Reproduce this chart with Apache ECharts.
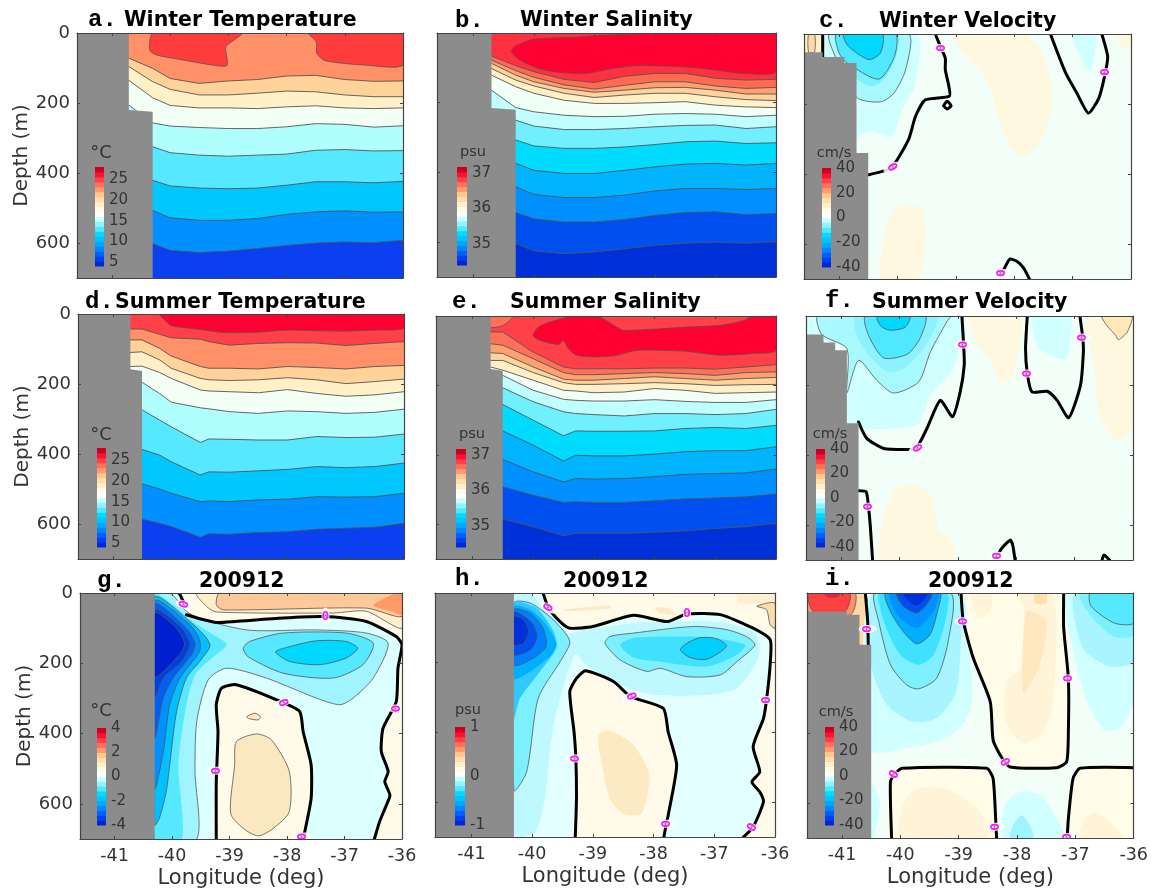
<!DOCTYPE html>
<html><head><meta charset="utf-8"><style>html,body{margin:0;padding:0;background:#fff}#c{width:1151px;height:892px;filter:blur(0.45px)}</style>
<script src="https://cdn.jsdelivr.net/npm/echarts@6/dist/echarts.min.js"></script></head><body><div id="c"></div>
<script>
// ---------- colour bar categories ----------
const cbColors=['#0028d8','#0040f0','#0060ff','#0088ff','#00a8ff','#00c4ff','#00dcff','#50e8ff','#90f4ff','#c8ffff','#ffffff','#fffbe8','#fff0c8','#ffe0a8','#ffc890','#ff9a70','#ff7058','#ff4048','#ff1030','#cc0020'];
const lonTicks=[-41,-40,-39,-38,-37,-36];
const depthTicks=[0,200,400,600];
const tempTicks=[5,10,15,20,25];
const salTicks=[35,36,37];
const velTicks=[-40,-20,0,20,40];
const anomTTicks=[-4,-2,0,2,4];
const anomSTicks=[-1,0,1];
// ---------- a: Winter Temperature ----------
const aLand=[[-41.6,0],[-40.71,0],[-40.71,220],[-40.3,225],[-40.3,700],[-41.6,700]];
const aLon=[-40.71,-40.3,-40,-39.5,-39,-38.5,-38,-37.5,-37,-36.5,-36];
const aContours=[
[72,101,130,144,137,133,123,121,133,138,137],
[96,139,161,177,177,172,166,168,177,182,182],
[135,185,207,214,214,216,211,208,214,216,214],
[206,257,266,270,273,273,268,259,261,269,265],
[300,325,342,349,352,349,346,335,333,337,336],
[400,421,437,443,445,443,435,425,425,428,424],
[490,507,528,535,535,530,518,511,508,512,511],
[580,602,621,627,623,616,607,600,597,599,592]];
const aBands=['#ff9068','#ffd29a','#fff0c8','#f2fff4','#b0ffff','#55e8ff','#00c8ff','#0090ff','#0a40f0'];
const aPolys=[
[[-40.29,0],[-40.35,49],[-40.23,63],[-39.78,77],[-39.26,92],[-39.03,94],[-39.02,77],[-39.04,39],[-38.77,0]],
[[-37.62,0],[-37.49,25],[-37.48,58],[-37.34,79],[-36.62,92],[-36,92],[-36,0]]];
const aFills=['#ff3c3c','#ff3c3c'];
// ---------- b: Winter Salinity ----------
const bLand=[[-41.6,0],[-40.7,0],[-40.7,215],[-40.3,220],[-40.3,700],[-41.6,700]];
const bLon=[-40.7,-40.3,-40,-39.5,-39,-38.5,-38,-37.5,-37,-36.5,-36];
const bContours=[
[66,94,111,133,142,124,116,116,130,135,133],
[78,108,127,149,161,150,140,140,152,159,156],
[87,121,140,159,170,164,157,156,164,175,175],
[102,135,152,173,185,178,173,173,183,191,194],
[121,154,173,193,202,202,200,197,207,212,214],
[164,214,226,236,240,239,233,231,233,240,236],
[220,250,267,277,277,274,269,265,264,274,269],
[280,307,324,331,331,327,320,312,310,317,315],
[350,374,394,403,403,394,384,376,374,379,374],
[420,441,463,472,472,465,453,446,446,449,446],
[490,515,533,542,542,535,523,515,513,521,518],
[580,604,625,633,628,619,609,603,600,603,598]];
const bBands=['#ff3040','#ff6a50','#ffa070','#ffd29a','#fff0c8','#f2fff4','#c0ffff','#70f0ff','#00dcff','#00b4ff','#0090ff','#0050f0','#0030d8'];
const bPolys=[[[-40.01,18],[-40.32,39],[-40.37,54],[-40.23,78],[-39.9,103],[-39.52,114],[-39.13,116],[-38.75,103],[-38.31,94],[-37.81,95],[-37.32,100],[-36.93,108],[-36.52,116],[-36,111],[-36,0],[-38.8,6],[-39.3,12]]];
const bFills=['#ff0030'];
// ---------- c: Winter Velocity ----------
const cLand=[[-41.6,52],[-41.28,52],[-41.28,66],[-40.91,66],[-40.91,83],[-40.7,83],[-40.7,340],[-40.5,340],[-40.5,700],[-41.6,700]];
const cPolys=[
[[-39.01,0],[-38.92,45],[-38.47,130],[-38.3,226],[-38.07,321],[-37.84,351],[-37.58,311],[-37.38,235],[-37.35,149],[-37.5,64],[-37.64,26],[-37.84,0]],
[[-40.29,700],[-40.21,568],[-40.06,502],[-39.84,487],[-39.58,502],[-39.52,568],[-39.64,700]],
[[-36.24,0],[-36.13,45],[-36,30],[-36,0]],
[[-37.01,0],[-36.87,64],[-36.7,107],[-36.61,45],[-36.61,0]],
[[-41.26,0],[-41.26,64],[-40.7,64],[-40.7,294],[-40.49,278],[-40.09,292],[-39.92,216],[-39.71,149],[-39.67,0]],
[[-41.16,0],[-41.09,54],[-40.7,181],[-40.29,194],[-40.06,169],[-39.86,102],[-39.81,0]],
[[-41.06,0],[-41.03,40],[-40.69,130],[-40.44,149],[-40.24,130],[-40.04,73],[-40,0]],
[[-41.04,0],[-41,54],[-40.86,83],[-40.32,129],[-40.05,64],[-40.04,0]],
[[-40.92,0],[-40.84,35],[-40.49,73],[-40.29,54],[-40.26,0]],
[[-41.6,0],[-41.28,0],[-41.28,52],[-41.6,52]],
[[-41.52,0],[-41.42,0],[-41.42,52],[-41.52,52]]];
const cFills=['#fff8e0','#fff8e0','#fff8e0','#d0ffff','#d0ffff','#a8f8ff','#7cf0ff','#50e8ff','#00d8ff','#ffeec8','#ffd8a8'];
const cLined=[0,0,0,0,0,1,0,1,1,0,1];
const cZero=[
[[-39.34,5],[-39.24,45],[-39.18,69],[-39.18,102],[-39.12,149],[-39.11,178],[-39.52,188],[-39.69,235],[-39.81,302],[-40.1,383],[-40.29,394],[-40.49,402]],
[[-37.38,0],[-37.12,111],[-36.93,168],[-36.73,226],[-36.55,183],[-36.44,111],[-36.4,64],[-36.5,0]],
[[-38.21,683],[-38.12,654],[-38.07,643],[-37.95,650],[-37.84,668],[-37.74,700]],
[[-41.28,5],[-41.28,66]],
[[-39.21,205],[-39.15,192],[-39.08,205],[-39.15,214],[-39.21,205]]];
const cLabels=[[-39.25,40,90],[-40.1,381,-60],[-36.44,109,90],[-38.21,683,90]];
// ---------- d: Summer Temperature ----------
const dLand=[[-41.6,0],[-40.7,0],[-40.7,158],[-40.5,163],[-40.5,700],[-41.6,700]];
const dLon=[-40.7,-40.5,-40.2,-40,-39.5,-39.35,-39,-38.5,-38,-37.5,-37,-36.5,-36];
const dContours=[
[43,43,58,68,72,79,89,84,82,83,90,84,79],
[74,74,98,120,150,155,155,157,150,153,157,150,147],
[110,108,131,155,184,188,190,188,182,188,199,193,186],
[150,149,167,184,217,220,222,225,216,227,235,231,222],
[165,195,227,252,268,271,279,284,277,279,284,281,272],
[250,274,303,322,367,357,358,360,360,350,353,352,343],
[360,387,403,422,460,451,452,448,444,436,439,436,426],
[460,485,500,512,536,534,536,531,529,522,523,522,512],
[560,586,598,607,638,628,629,624,622,615,612,609,598]];
const dBands=['#ff4048','#ff9068','#ffd29a','#fff0c8','#f2fff4','#b0ffff','#55e8ff','#00c8ff','#0090ff','#0a40f0'];
const dPolys=[[[-40.2,0],[-40.11,17],[-40,33],[-39.51,44],[-39.08,53],[-38.5,52],[-38,46],[-37.5,48],[-37,49],[-36.5,46],[-36,41],[-36,0]]];
const dFills=['#ff0030'];
// ---------- e: Summer Salinity ----------
const eLand=[[-41.6,0],[-40.7,0],[-40.7,153],[-40.5,158],[-40.5,700],[-41.6,700]];
const eLon=[-40.7,-40.5,-40,-39.5,-39.3,-39,-38.5,-38,-37.5,-37,-36.5,-36];
const eContours=[
[46,46,104,147,152,152,152,150,150,153,147,140],
[80,84,123,163,169,169,166,163,166,171,163,161],
[106,108,147,182,185,185,180,175,180,185,180,177],
[128,128,163,192,197,197,195,192,195,200,198,197],
[147,156,185,214,216,221,219,209,214,223,221,219],
[166,171,214,240,243,245,245,241,246,249,249,241],
[176,207,247,276,281,284,288,281,281,284,281,269],
[228,255,300,345,331,332,332,331,324,321,324,315],
[305,331,372,418,401,403,403,398,391,388,388,377],
[386,413,449,478,468,470,468,463,456,454,452,441],
[468,492,516,537,535,537,537,532,527,524,521,513],
[564,585,607,633,626,626,626,623,619,612,607,597]];
const eBands=['#ff4048','#ff7058','#ffa070','#ffd29a','#fff0c8','#f2fff4','#c0ffff','#70f0ff','#00dcff','#00b4ff','#0090ff','#0050f0','#0030d8'];
const ePolys=[
[[-39.35,0],[-39.89,29],[-40,56],[-39.89,70],[-39.58,82],[-39.5,70],[-39.42,94],[-39.28,113],[-38.95,118],[-38.62,113],[-38.29,99],[-37.91,99],[-37.47,102],[-36.92,113],[-36.37,108],[-36,99],[-36,0],[-36.45,5],[-36.51,12],[-36.92,27],[-37.47,32],[-38.02,38],[-38.51,41],[-38.62,32],[-38.95,0]],
[[-40.7,0],[-40.33,0],[-40.41,17],[-40.52,29],[-40.7,32]]];
const eFills=['#ff0030','#ff7058'];
// ---------- f: Summer Velocity ----------
const fLand=[[-41.6,53],[-41.3,53],[-41.3,76],[-41.1,76],[-41.1,98],[-40.9,98],[-40.9,308],[-40.7,308],[-40.7,700],[-41.6,700]];
const fPolys=[
[[-38.79,0],[-38.7,74],[-38.45,122],[-38.27,194],[-38.05,170],[-37.93,0]],
[[-36.82,0],[-36.67,141],[-36.59,275],[-36.3,356],[-36,318],[-36,0]],
[[-40.33,700],[-40.25,562],[-40.05,495],[-39.76,485],[-39.47,509],[-39.36,581],[-39.3,619],[-39.16,628],[-39.05,700]],
[[-36.53,0],[-36.45,27],[-36.3,55],[-36.25,68],[-36.1,46],[-36.02,0]],
[[-37.72,0],[-37.67,70],[-37.6,95],[-37.15,125],[-37.07,50],[-37.07,0]],
[[-41.59,0],[-41.59,53],[-40.9,98],[-40.9,308],[-39.7,311],[-39.47,227],[-39.07,151],[-38.96,74],[-38.93,0]],
[[-41.39,0],[-41.33,53],[-40.9,94],[-40.9,220],[-40.7,127],[-40.39,184],[-40.1,221],[-39.67,189],[-39.47,103],[-39.19,17],[-39.13,0]],
[[-40.76,0],[-40.65,84],[-40.22,159],[-39.93,151],[-39.59,94],[-39.36,0]],
[[-40.58,0],[-40.53,55],[-40.27,120],[-39.87,110],[-39.65,65],[-39.56,0]],
[[-40.38,0],[-40.32,29],[-40.16,41],[-39.9,32],[-39.82,0]]];
const fFills=['#fff8e0','#fff8e0','#fff8e0','#ffe8b8','#d0ffff','#d0ffff','#a8f8ff','#8cf2ff','#50e8ff','#00d8ff'];
const fLined=[0,0,0,1,0,0,1,0,1,1];
const fZero=[
[[-40.7,304],[-40.56,351],[-40.27,380],[-39.82,383],[-39.71,380],[-39.53,323],[-39.3,242],[-39.09,289],[-38.96,218],[-38.89,141],[-38.9,84],[-38.93,0]],
[[-37.81,0],[-37.84,94],[-37.81,165],[-37.73,218],[-37.47,216],[-37.3,242],[-37.1,292],[-36.9,199],[-36.85,103],[-36.86,63],[-36.91,0]],
[[-40.7,501],[-40.57,504],[-40.53,547],[-40.5,600],[-40.46,700]],
[[-38.32,688],[-38.25,667],[-38.1,643],[-38.06,657],[-38.02,700]],
[[-36.53,700],[-36.5,686],[-36.4,700]]];
const fLabels=[[-38.9,82,90],[-37.81,165,90],[-36.86,62,90],[-39.71,380,-60],[-40.53,547,90],[-38.32,688,90]];
// ---------- g: 200912 temperature anomaly ----------
const gLand=[[-41.6,0],[-40.3,0],[-40.3,700],[-41.6,700]];
const gPolys=[
[[-39.89,0],[-39.86,5],[-39.75,62],[-39.5,74],[-39.23,84],[-38.9,81],[-38.07,71],[-37.34,67],[-36.62,81],[-36.1,124],[-36,147],[-36,0]],
[[-36,147],[-36.07,214],[-36.1,309],[-36.33,385],[-36.36,451],[-36.24,508],[-36.3,537],[-36.21,575],[-36.27,603],[-36.39,651],[-36.48,700],[-36,700]],
[[-39.23,700],[-39.23,537],[-39.2,394],[-39.23,318],[-39.14,271],[-38.88,261],[-38.18,304],[-37.78,337],[-37.72,394],[-37.58,489],[-37.58,584],[-37.69,679],[-37.72,700]],
[[-38.88,423],[-38.53,401],[-38.27,418],[-37.96,508],[-37.96,622],[-38.24,670],[-38.5,691],[-38.76,670],[-38.98,627],[-38.91,489]],
[[-38.7,352],[-38.56,342],[-38.46,352],[-38.5,361],[-38.65,358]],
[[-39.57,0],[-39.4,38],[-39.23,54],[-37.2,57],[-36.62,52],[-36,100],[-36,0]],
[[-39.17,0],[-39.23,33],[-39.11,48],[-36.62,43],[-36,67],[-36,0]],
[[-36.1,0],[-36.5,35],[-36.19,52],[-36,62],[-36,0]],
[[-40.3,0],[-40.01,3],[-39.75,52],[-39.46,76],[-38.65,106],[-37.49,105],[-36.62,114],[-36.24,143],[-36.5,242],[-36.85,299],[-37.08,318],[-37.49,299],[-38.36,242],[-39.05,214],[-39.37,247],[-39.57,366],[-39.6,508],[-39.57,700],[-40.3,700]],
[[-38.76,157],[-38.68,181],[-38.07,228],[-37.2,242],[-36.68,204],[-36.5,143],[-36.97,114],[-38.07,114],[-38.65,138]],
[[-38.2,168],[-37.95,195],[-37.43,204],[-36.97,185],[-36.77,157],[-36.97,138],[-37.49,136],[-38.01,155]],
[[-40.3,5],[-39.98,33],[-39.69,76],[-39.28,119],[-39.05,147],[-39.31,185],[-39.6,233],[-39.75,318],[-39.89,489],[-39.83,700],[-40.3,700]],
[[-40.3,14],[-39.69,81],[-39.4,128],[-39.34,152],[-39.52,195],[-39.75,242],[-39.92,337],[-40.04,489],[-40.1,565],[-40.22,641],[-40.3,660]],
[[-40.3,24],[-39.69,90],[-39.52,133],[-39.52,166],[-39.86,242],[-40.04,318],[-40.15,451],[-40.3,556]],
[[-40.3,33],[-39.75,100],[-39.6,143],[-39.66,176],[-39.98,242],[-40.15,299],[-40.3,413]],
[[-40.3,48],[-39.83,100],[-39.69,147],[-39.83,195],[-40.15,242],[-40.3,299]],
[[-40.3,57],[-39.92,100],[-39.78,147],[-39.92,185],[-40.3,238]]];
const gFills=['#fffbe8','#fffbe8','#fffbe8','#fbe8c0','#fbe8c0','#ffeecc','#ffc898','#ff9a68','#a0f4ff','#55e8ff','#00d8ff','#55e8ff','#00c0ff','#0090ff','#0060f0','#0040e0','#0020d0'];
const gLined=[0,0,0,1,1,1,1,0,1,1,1,0,1,1,1,1,1];
const gZero=[
[[-39.89,0],[-39.86,5],[-39.78,33]],
[[-39.75,62],[-39.5,74],[-39.23,84],[-38.9,81],[-38.07,71],[-37.34,67],[-36.62,81],[-36.1,124],[-36,147],[-36.07,214],[-36.1,309],[-36.33,385],[-36.36,451],[-36.24,508],[-36.3,537],[-36.21,575],[-36.27,603],[-36.39,651],[-36.48,700]],
[[-39.23,700],[-39.23,537],[-39.2,394],[-39.23,318],[-39.14,271],[-38.88,261],[-38.18,304],[-37.78,337],[-37.72,394],[-37.58,489],[-37.58,584],[-37.69,679],[-37.72,700]]];
const gLabels=[[-39.23,506,90],[-38.08,313,-70],[-37.72,693,90],[-37.33,67,0],[-36.1,329,90],[-39.78,33,75]];
// ---------- h: 200912 salinity anomaly ----------
const hLand=[[-41.6,0],[-40.3,0],[-40.3,700],[-41.6,700]];
const hPolys=[
[[-39.82,0],[-39.73,43],[-39.54,82],[-39.38,101],[-39,96],[-38.33,64],[-37.78,82],[-37.45,60],[-36.9,62],[-36.36,101],[-36.08,134],[-36,134],[-36,0]],
[[-36.08,134],[-36.08,206],[-36.14,307],[-36.19,360],[-36.36,441],[-36.25,513],[-36.38,542],[-36.25,571],[-36.19,599],[-36.36,671],[-36.52,700],[-36,700],[-36,134]],
[[-39.29,700],[-39.27,590],[-39.28,475],[-39.31,398],[-39.38,283],[-39.27,245],[-39.12,223],[-38.66,254],[-38.38,297],[-37.84,331],[-37.76,398],[-37.62,494],[-37.76,638],[-37.79,662],[-37.83,700]],
[[-38.91,408],[-38.72,395],[-38.33,436],[-38.07,523],[-38.2,633],[-38.5,633],[-38.72,590],[-38.85,494]],
[[-39.49,48],[-38.72,35],[-38.72,45],[-39.49,52]],
[[-37.98,43],[-37.78,43],[-37.62,62],[-37.89,58]],
[[-36.63,0],[-36,0],[-36,24],[-36.57,29]],
[[-36.3,38],[-36,29],[-36,101],[-36.08,91],[-36.14,48]],
[[-40.3,695],[-39.95,686],[-39.79,590],[-39.68,417],[-39.54,302],[-39.29,177],[-39.11,206],[-38.55,264],[-38,292],[-37.07,292],[-36.63,273],[-36.3,197],[-36.25,149],[-36.36,110],[-37.01,82],[-38.28,86],[-39.11,105],[-39.43,115],[-39.65,72],[-39.87,34],[-40.03,0],[-40.3,0]],
[[-40.3,29],[-40.03,29],[-39.65,77],[-39.38,139],[-39.54,197],[-39.9,302],[-40.09,513],[-40.3,566]],
[[-38.8,144],[-38.55,192],[-38.11,225],[-37.89,216],[-37.45,240],[-36.9,235],[-36.63,197],[-36.33,149],[-36.47,125],[-36.8,105],[-37.34,96],[-38.33,115],[-38.72,125]],
[[-38.55,149],[-38.33,185],[-37.89,197],[-37.12,211],[-36.63,177],[-36.49,149],[-37.01,129],[-37.45,125],[-38.33,129]],
[[-37.56,163],[-37.4,185],[-37.12,190],[-36.8,153],[-36.96,131],[-37.23,128],[-37.45,144]],
[[-40.3,360],[-40.2,302],[-39.87,225],[-39.6,158],[-39.65,110],[-39.93,43],[-40.3,29]],
[[-40.3,245],[-40.03,225],[-39.68,177],[-39.6,144],[-39.79,86],[-40.03,48],[-40.3,38]],
[[-40.3,206],[-39.98,187],[-39.77,153],[-39.82,101],[-40.03,58],[-40.3,48]],
[[-40.3,177],[-40.03,163],[-39.92,129],[-39.98,91],[-40.17,62],[-40.3,55]],
[[-40.3,149],[-40.14,144],[-40.06,110],[-40.14,77],[-40.3,67]]];
const hFills=['#fffbe8','#fffbe8','#fffbe8','#fdeac4','#fdeac4','#fdeac4','#ffeed0','#fbdca8','#c0f8ff','#7cf0ff','#7cf0ff','#40e0ff','#00d0ff','#30c8ff','#00b0ff','#0080ff','#0050f0','#0030d8'];
const hLined=[0,0,0,0,0,0,0,1,0,1,1,0,1,0,0,1,1,1];
const hZero=[
[[-39.82,0],[-39.73,43],[-39.54,82],[-39.38,101],[-39,96],[-38.33,64],[-37.78,82],[-37.45,60],[-36.9,62],[-36.36,101],[-36.08,134],[-36.08,206],[-36.14,307],[-36.19,360],[-36.36,441],[-36.25,513],[-36.38,542],[-36.25,571],[-36.19,599],[-36.36,671],[-36.52,700]],
[[-39.29,700],[-39.27,590],[-39.28,475],[-39.31,398],[-39.38,283],[-39.27,245],[-39.12,223],[-38.66,254],[-38.38,297],[-37.84,331],[-37.76,398],[-37.62,494],[-37.76,638],[-37.79,662],[-37.83,700]]];
const hLabels=[[-39.72,43,60],[-37.45,59,0],[-39.29,475,90],[-38.38,297,-70],[-37.78,662,90],[-36.14,307,90],[-36.37,673,60]];
// ---------- i: 200912 velocity anomaly ----------
const iLand=[[-41.6,53],[-40.92,53],[-40.92,62],[-40.7,62],[-40.7,148],[-40.5,148],[-40.5,700],[-41.6,700]];
const iPolys=[
[[-41.6,0],[-40.62,0],[-40.62,148],[-41.6,148]],
[[-41.6,0],[-40.78,0],[-40.85,62],[-41.6,62]],
[[-41.57,0],[-41.49,53],[-40.95,53],[-40.87,0]],
[[-41.31,0],[-41.23,11],[-41.09,10],[-41.03,0]],
[[-38.96,0],[-38.92,81],[-38.75,186],[-38.46,310],[-38.29,463],[-38.12,497],[-37.32,497],[-37.12,473],[-37.12,244],[-37.2,0]],
[[-38.78,0],[-38.75,43],[-38.64,70],[-38.46,53],[-38.44,0]],
[[-37.95,0],[-37.89,43],[-37.89,205],[-38.18,253],[-38.19,368],[-37.89,430],[-37.55,396],[-37.38,301],[-37.38,0]],
[[-37.89,286],[-37.84,53],[-37.5,81],[-37.61,205]],
[[-37.69,0],[-37.69,29],[-37.5,29],[-37.5,0]],
[[-40.17,700],[-40.17,540],[-39.97,501],[-38.52,501],[-38.4,540],[-38.35,700]],
[[-40,700],[-39.95,606],[-39.72,559],[-39.15,563],[-38.63,626],[-38.52,700]],
[[-37.12,700],[-37.07,540],[-36.92,501],[-36,499],[-36,700]],
[[-36.92,700],[-36.87,654],[-36.67,626],[-36.41,654],[-36.18,700]],
[[-38.24,700],[-38.21,606],[-37.95,568],[-37.61,578],[-37.38,626],[-37.21,700]],
[[-38.12,700],[-38.07,664],[-37.92,635],[-37.78,664],[-37.72,700]],
[[-40.5,540],[-40.35,600],[-40.46,700],[-40.5,700]],
[[-37.15,0],[-36.98,205],[-36.75,329],[-36.47,393],[-36.18,377],[-36,301],[-36,0]],
[[-37.01,0],[-36.87,158],[-36.41,210],[-36,196],[-36,0]],
[[-36.92,0],[-36.75,62],[-36.35,124],[-36,119],[-36,0]],
[[-36.74,0],[-36.73,38],[-36.33,86],[-36,86],[-36,0]],
[[-40.5,0],[-40.5,449],[-39.89,442],[-39.21,415],[-38.86,358],[-38.76,282],[-38.86,110],[-38.95,0]],
[[-40.46,0],[-40.5,205],[-40.23,320],[-39.78,368],[-39.38,358],[-39.06,291],[-38.97,158],[-39.03,0]],
[[-40.43,0],[-40.37,81],[-40.17,205],[-39.89,263],[-39.69,274],[-39.38,244],[-39.18,138],[-39.14,0]],
[[-40.35,0],[-40.26,91],[-40,177],[-39.69,205],[-39.43,177],[-39.23,81],[-39.21,0]],
[[-40.25,0],[-40.17,53],[-39.95,110],[-39.72,145],[-39.49,119],[-39.35,43],[-39.32,0]],
[[-40.17,0],[-40.06,62],[-39.72,100],[-39.43,53],[-39.35,0]],
[[-40.06,0],[-39.95,38],[-39.72,57],[-39.55,33],[-39.46,0]],
[[-39.95,0],[-39.85,25],[-39.72,36],[-39.6,20],[-39.52,0]]];
const iFills=['#ffd8a8','#ff9068','#ff4040','#ff1838','#fffce8','#fff4d8','#fff4d8','#ffe8c0','#ffe0b0','#fffce8','#fff4d8','#fffce8','#fff4d8','#d0ffff','#a0f4ff','#d0ffff','#d0ffff','#a8f4ff','#7cf0ff','#55e8ff','#d0ffff','#a8f4ff','#7cf0ff','#40e0ff','#00b0ff','#0090ff','#0050f0','#0030d8'];
const iLined=[1,1,1,1,0,0,0,0,0,0,0,0,0,0,0,0,0,0,0,1,0,0,1,0,1,0,1,0];
const iZero=[
[[-38.96,0],[-38.92,81],[-38.75,186],[-38.46,310],[-38.41,420],[-38.29,463],[-38.12,497],[-37.32,499],[-37.15,482],[-37.12,396],[-37.12,244],[-37.2,100],[-37.2,0]],
[[-40.15,700],[-40.17,540],[-40.1,519],[-39.97,501],[-38.52,501],[-38.41,530],[-38.36,668],[-38.35,700]],
[[-36,499],[-36.92,501],[-37.04,530],[-37.12,645],[-37.14,700]],
[[-40.6,0],[-40.56,81],[-40.55,148]]];
const iLabels=[[-40.56,103,90],[-38.92,81,90],[-37.12,244,90],[-38.22,484,-60],[-40.1,519,60],[-38.36,668,90],[-37.14,697,90]];

// ---------- builders ----------
const lineGray='#555';
function layered(lons,contours,bands){
  const out=[{pts:[[-41.7,-30],[-35.9,-30],[-35.9,730],[-41.7,730]],fill:bands[bands.length-1]}];
  for(let i=contours.length-1;i>=0;i--){
    const c=lons.map((x,k)=>[x,contours[i][k]]);
    out.push({pts:[[-41.7,contours[i][0]],...c,[-35.9,contours[i][c.length-1]],[-35.9,-30],[-41.7,-30]],fill:bands[i]});
    out.push({pts:c,line:lineGray,w:0.9});
  }
  return out;
}
function polys(list,fills,lined){
  return list.map((p,i)=>({pts:p,fill:fills[i],stroke:(!lined||lined[i])?lineGray:null,w:0.8,sm:0.25}));
}
function bg(color){return [{pts:[[-41.7,-30],[-35.9,-30],[-35.9,730],[-41.7,730]],fill:color}];}
function zero(list){return list.map(p=>({pts:p,line:'#000',w:3,sm:0.2}));}
function land(p){return {pts:p,fill:'#8c8c8c'};}

const panels=[
 {g:[77,33,326,245],shapes:[...layered(aLon,aContours,aBands),...polys(aPolys,aFills),land(aLand)],letter:'a.',lx:88,ly:19,title:'Winter Temperature',tx:124,ty:19,cb:[95,167,9,99],cbr:[4,28],ticks:tempTicks,unit:'°C',ux:101,uy:153},
 {g:[437,33,339,244],shapes:[...layered(bLon,bContours,bBands),...polys(bPolys,bFills),land(bLand)],letter:'b.',lx:455,ly:20,title:'Winter Salinity',tx:520,ty:19,cb:[457,167,10,98],cbr:[34.41,37.17],ticks:salTicks,unit:'psu',ux:473,uy:154},
 {g:[804,34,327,245],shapes:[...bg('#f2fff8'),...polys(cPolys,cFills,cLined),...zero(cZero),land(cLand)],labels:cLabels,letter:'c.',lx:819,ly:20,title:'Winter Velocity',tx:879,ty:20,cb:[822,168,9,99],cbr:[-40,40],ticks:velTicks,unit:'cm/s',ux:834,uy:155},
 {g:[78,314,326,245],shapes:[...layered(dLon,dContours,dBands),...polys(dPolys,dFills),land(dLand)],letter:'d.',lx:85,ly:301,title:'Summer Temperature',tx:115,ty:301,cb:[97,448,9,99],cbr:[4,28],ticks:tempTicks,unit:'°C',ux:101,uy:435},
 {g:[436,316,340,243],shapes:[...layered(eLon,eContours,eBands),...polys(ePolys,eFills),land(eLand)],letter:'e.',lx:452,ly:301,title:'Summer Salinity',tx:510,ty:301,cb:[456,449,10,98],cbr:[34.41,37.17],ticks:salTicks,unit:'psu',ux:472,uy:436},
 {g:[806,316,327,244],shapes:[...bg('#f2fff8'),...polys(fPolys,fFills,fLined),...zero(fZero),land(fLand)],labels:fLabels,letter:'f.',lx:825,ly:300,title:'Summer Velocity',tx:872,ty:301,cb:[816,449,9,98],cbr:[-40,40],ticks:velTicks,unit:'cm/s',ux:830,uy:436},
 {g:[80,593,322,246],shapes:[...bg('#dcffff'),...polys(gPolys,gFills,gLined),...zero(gZero),land(gLand)],labels:gLabels,letter:'g.',lx:97,ly:580,title:'200912',tx:199,ty:580,cb:[97,728,9,97],cbr:[-4,4],ticks:anomTTicks,unit:'°C',ux:101,uy:711},
 {g:[435,593,340,244],shapes:[...bg('#e4ffff'),...polys(hPolys,hFills,hLined),...zero(hZero),land(hLand)],labels:hLabels,letter:'h.',lx:455,ly:578,title:'200912',tx:563,ty:580,cb:[455,727,10,98],cbr:[-1,1],ticks:anomSTicks,unit:'psu',ux:468,uy:712},
 {g:[807,593,327,245],shapes:[...bg('#f2fff8'),...polys(iPolys,iFills,iLined),...zero(iZero),land(iLand)],labels:iLabels,letter:'i.',lx:825,ly:578,title:'200912',tx:928,ty:580,cb:[825,727,9,98],cbr:[-40,40],ticks:velTicks,unit:'cm/s',ux:836,uy:714}
];

const grid=[],xAxis=[],yAxis=[],series=[],title=[];
const axisCol='#444',txtCol='#333',face='"DejaVu Sans"';
panels.forEach((p,n)=>{
  const col=n%3,row=Math.floor(n/3);
  const gi=grid.length;
  grid.push({left:p.g[0],top:p.g[1],width:p.g[2],height:p.g[3],containLabel:false});
  const xi=xAxis.length,yi=yAxis.length;
  xAxis.push({type:'value',gridIndex:gi,position:'bottom',min:-41.6,max:-36,z:5,
    axisLine:{onZero:false,lineStyle:{color:axisCol,width:1.2}},
    axisTick:{inside:true,length:3,customValues:lonTicks,lineStyle:{color:axisCol}},
    axisLabel:{show:row===2,customValues:lonTicks,color:txtCol,fontFamily:face,fontSize:17.5,margin:8},
    splitLine:{show:false},
    name:row===2?'Longitude (deg)':'',nameLocation:'middle',nameGap:29,nameTextStyle:{color:txtCol,fontFamily:face,fontSize:21}});
  xAxis.push({type:'value',gridIndex:gi,position:'top',min:-41.6,max:-36,z:5,
    axisLine:{onZero:false,lineStyle:{color:axisCol,width:1.2}},
    axisTick:{inside:true,length:3,customValues:lonTicks,lineStyle:{color:axisCol}},
    axisLabel:{show:false},splitLine:{show:false}});
  yAxis.push({type:'value',gridIndex:gi,position:'left',inverse:true,min:0,max:700,z:5,
    axisLine:{onZero:false,lineStyle:{color:axisCol,width:1.2}},
    axisTick:{inside:true,length:3,customValues:depthTicks,lineStyle:{color:axisCol}},
    axisLabel:{show:col===0,customValues:depthTicks,color:txtCol,fontFamily:face,fontSize:18,margin:7},
    splitLine:{show:false},
    name:col===0?'Depth (m)':'',nameLocation:'middle',nameGap:44,nameTextStyle:{color:txtCol,fontFamily:face,fontSize:20}});
  yAxis.push({type:'value',gridIndex:gi,position:'right',inverse:true,min:0,max:700,z:5,
    axisLine:{onZero:false,lineStyle:{color:axisCol,width:1.2}},
    axisTick:{inside:true,length:3,customValues:depthTicks,lineStyle:{color:axisCol}},
    axisLabel:{show:false},splitLine:{show:false}});
  const shapes=p.shapes;
  series.push({type:'custom',xAxisIndex:xi,yAxisIndex:yi,clip:true,silent:true,animation:false,z:2,
    data:shapes.map(s=>[s.pts[0][0],s.pts[0][1]]),
    renderItem(params,api){
      const s=shapes[params.dataIndex];
      const pts=s.pts.map(q=>api.coord(q));
      if(s.line) return {type:'polyline',shape:{points:pts,smooth:s.sm||0},style:{fill:null,stroke:s.line,lineWidth:s.w,lineJoin:'round',lineCap:'round'}};
      return {type:'polygon',shape:{points:pts,smooth:s.sm||0},style:{fill:s.fill,stroke:s.stroke||null,lineWidth:s.w||0}};
    }});
  if(p.labels){
    series.push({type:'custom',xAxisIndex:xi,yAxisIndex:yi,clip:true,silent:true,animation:false,z:3,
      data:p.labels.map(l=>[l[0],l[1],l[2]]),
      renderItem(params,api){
        const c=api.coord([api.value(0),api.value(1)]);
        return {type:'group',x:c[0],y:c[1],rotation:api.value(2)*Math.PI/180,children:[
          {type:'ellipse',shape:{cx:0,cy:0,rx:4,ry:9},style:{fill:'rgba(255,255,255,0.85)'}},
          {type:'text',style:{x:0,y:0,text:'0',fill:'#f020f0',font:'bold 13px "DejaVu Sans Mono"',align:'center',verticalAlign:'middle'}}]};
      }});
  }
  // colour bar
  const cg=grid.length;
  grid.push({left:p.cb[0],top:p.cb[1],width:p.cb[2],height:p.cb[3],containLabel:false});
  const cx=xAxis.length,cy=yAxis.length;
  xAxis.push({type:'value',gridIndex:cg,min:0,max:1,show:false});
  yAxis.push({type:'value',gridIndex:cg,position:'right',min:p.cbr[0],max:p.cbr[1],z:7,
    axisLine:{show:false},axisTick:{show:false},splitLine:{show:false},
    axisLabel:{customValues:p.ticks,color:txtCol,fontFamily:face,fontSize:15,margin:5}});
  const step=(p.cbr[1]-p.cbr[0])/cbColors.length;
  series.push({type:'custom',xAxisIndex:cx,yAxisIndex:cy,silent:true,animation:false,z:6,
    data:cbColors.map((c,i)=>[0,p.cbr[0]+i*step]),
    renderItem(params,api){
      const i=params.dataIndex;
      const a=api.coord([0,p.cbr[0]+i*step]),b=api.coord([1,p.cbr[0]+(i+1)*step]);
      return {type:'rect',shape:{x:a[0],y:b[1],width:b[0]-a[0],height:a[1]-b[1]+0.5},style:{fill:cbColors[i]}};
    }});
  // titles
  title.push({text:p.letter,left:p.lx,top:p.ly-11,padding:0,textStyle:{fontFamily:'"Liberation Mono"',fontWeight:'bold',fontSize:24,color:'#000'}});
  title.push({text:p.title,left:p.tx,top:p.ty-9,padding:0,textStyle:{fontFamily:face,fontWeight:'bold',fontSize:20.5,color:'#000'}});
  title.push({text:p.unit,left:p.ux,top:p.uy-9,padding:0,textAlign:'center',z:8,textStyle:{fontFamily:face,fontWeight:'normal',fontSize:p.unit==='°C'?18:14.5,color:txtCol}});
});
const chart=echarts.init(document.getElementById('c'),null,{renderer:'canvas'});
chart.setOption({animation:false,backgroundColor:'#fff',title,grid,xAxis,yAxis,series});
</script></body></html>
